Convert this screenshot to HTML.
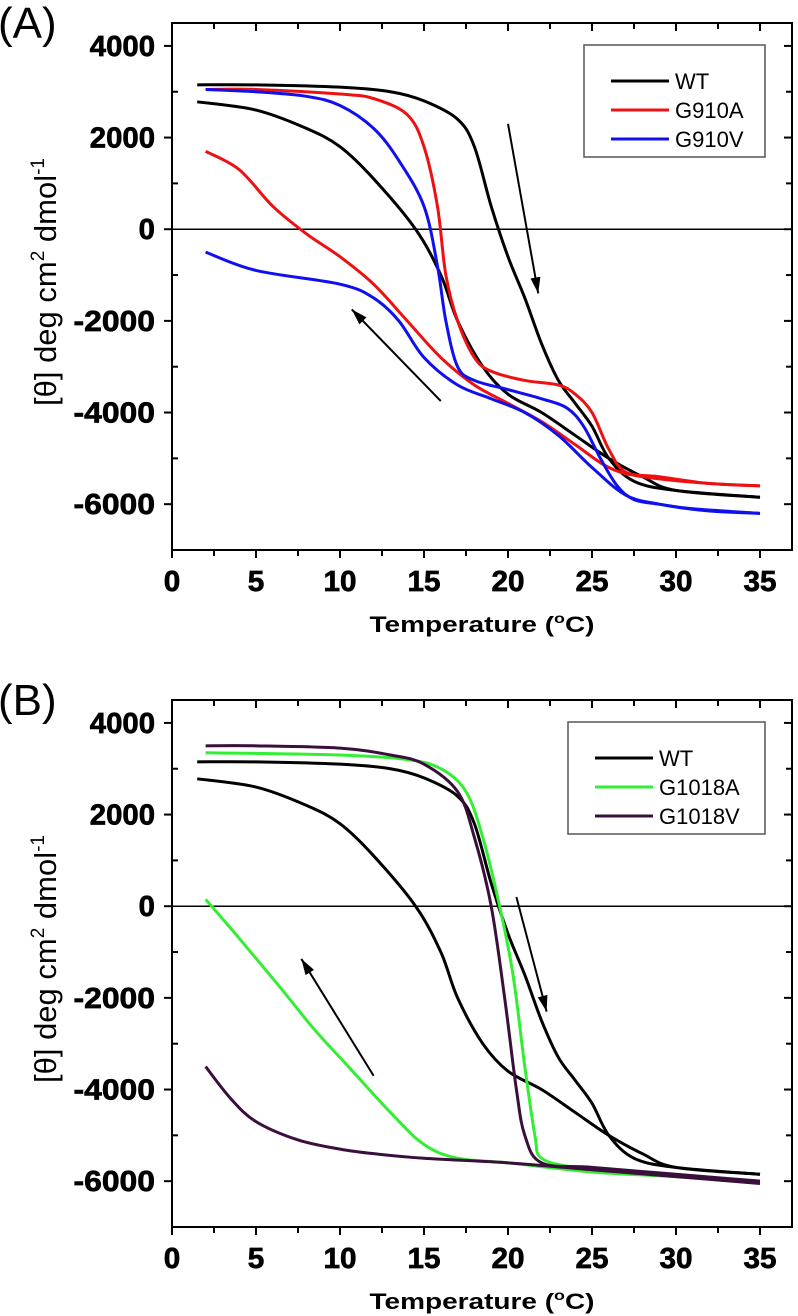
<!DOCTYPE html>
<html><head><meta charset="utf-8"><style>
html,body{margin:0;padding:0;background:#fff;}
svg{display:block;}
text{font-family:"Liberation Sans",sans-serif;}
.tk{font-weight:bold;font-size:29px;stroke:#000;stroke-width:0.7;}
</style></head><body>
<svg id="svg" width="798" height="1316"></svg>
<script>
// ---- Data (value arrays) ----
const xTicks = [0,5,10,15,20,25,30,35];
const yTicks = [4000,2000,0,-2000,-4000,-6000];
// WT (shared in both panels)
const wtHeatT = [1.5,5,10,13,15,17,18,19,20,21,22,23,24,25,26,27.5,30,35];
const wtHeatV = [3150,3150,3100,3000,2800,2400,1800,500,-600,-1500,-2500,-3300,-3800,-4300,-5000,-5500,-5700,-5850];
const wtCoolT = [1.5,5,8,10,12,14.5,16,17,18.5,20,22,24,26,28,30,35];
const wtCoolV = [2780,2600,2200,1800,1100,0,-1000,-2000,-3000,-3600,-4000,-4500,-5000,-5400,-5700,-5850];
// G910A
const aHeatT = [2,5,10,12,14,15,15.8,16.3,17,18,19,21,23,24,25,26,27,29,32,35];
const aHeatV = [3050,3050,2950,2850,2500,1800,500,-1000,-2000,-2800,-3100,-3300,-3400,-3600,-4000,-4800,-5300,-5400,-5550,-5600];
const aCoolT = [2,4,6,8,10,12,14,16,18,20,22,24,26,28,32,35];
const aCoolV = [1700,1300,500,-100,-600,-1200,-2000,-2800,-3400,-3800,-4200,-4700,-5200,-5400,-5550,-5600];
// G910V
const vHeatT = [2,5,8,10,12,13.5,15,15.8,16.3,17,18,20,22,23.5,24.5,25.5,26.5,27.5,29,31,35];
const vHeatV = [3050,3000,2900,2700,2200,1500,500,-800,-2000,-3000,-3300,-3500,-3700,-3900,-4300,-5000,-5600,-5900,-6000,-6100,-6200];
const vCoolT = [2,5,10,12,13.5,15,17,19,21,23,25,27,29,32,35];
const vCoolV = [-500,-900,-1200,-1500,-2000,-2800,-3400,-3700,-4000,-4500,-5200,-5800,-6000,-6150,-6200];
// G1018A
const bAHeatT = [2,10,14,16,17.5,18.5,19.5,20.3,21,21.6,22,24,27,30,35];
const bAHeatV = [3350,3300,3200,3000,2500,1500,0,-1500,-3500,-5000,-5500,-5700,-5800,-5900,-6000];
const bACoolT = [2,4,6.5,8.5,10.5,13,15,17,20,25,30,35];
const bACoolV = [150,-700,-1800,-2700,-3500,-4500,-5200,-5500,-5600,-5800,-5900,-6000];
// G1018V
const bVHeatT = [2,5,10,13,15,17,18,19,19.8,20.5,21,22,25,30,35];
const bVHeatV = [3500,3500,3450,3300,3100,2500,1500,0,-2000,-4000,-5000,-5600,-5700,-5850,-6000];
const bVCoolT = [2,3.5,5,7.5,10,12,15,20,25,30,35];
const bVCoolV = [-3500,-4200,-4700,-5100,-5300,-5400,-5500,-5600,-5750,-5900,-6050];

const NS='http://www.w3.org/2000/svg';
const svg=document.getElementById('svg');
function el(tag,attrs,parent){const e=document.createElementNS(NS,tag);for(const k in attrs)e.setAttribute(k,attrs[k]);(parent||svg).appendChild(e);return e;}

function panel(off,label,series,legend,arrows,lg){
  const L=172,R=792,T=23+off,B=550+off;
  const xs=v=>L+v*16.8;
  const ys=v=>T+(4500-v)/11500*(B-T);
  const g=el('g',{});
  
  
  const pl=el('text',{x:-2,y:off+38,'font-size':44},g);pl.textContent='('+label+')';
  
  const z=el('line',{x1:L,x2:R,y1:ys(0),y2:ys(0),stroke:'#000','stroke-width':1.5},g);
  
  series.forEach(s=>{
    const pts=s.t.map((t,i)=>[xs(t),ys(s.v[i])]);
    let d='M'+pts[0][0]+','+pts[0][1];
    for(let i=0;i<pts.length-1;i++){
      const p0=pts[Math.max(0,i-1)],p1=pts[i],p2=pts[i+1],p3=pts[Math.min(pts.length-1,i+2)];
      const c1=[p1[0]+(p2[0]-p0[0])/6,p1[1]+(p2[1]-p0[1])/6];
      const c2=[p2[0]-(p3[0]-p1[0])/6,p2[1]-(p3[1]-p1[1])/6];
      d+=` C${c1[0]},${c1[1]} ${c2[0]},${c2[1]} ${p2[0]},${p2[1]}`;
    }
    const p=el('path',{d:d,fill:'none',stroke:s.c,'stroke-width':3,'stroke-linejoin':'round'},g);
    
    
  });
  const fr=el('rect',{x:L,y:T,width:R-L,height:B-T,fill:'none',stroke:'#000','stroke-width':2},g);
  
  for(let v=0;v<=37.5;v+=2.5){
    const major=v%5===0;
    el('line',{x1:xs(v),x2:xs(v),y1:B,y2:B+(major?8:6),stroke:'#000','stroke-width':2},g);
    el('line',{x1:xs(v),x2:xs(v),y1:T,y2:T+(major?8:6),stroke:'#000','stroke-width':2},g);
  }
  xTicks.forEach(v=>{
    const t=el('text',{x:xs(v),y:B+41,'text-anchor':'middle',class:'tk',textLength:String(v).length*16.5,lengthAdjust:'spacingAndGlyphs'},g);
    t.textContent=v;
    
  });
  for(let v=-7000;v<=4000;v+=1000){
    const major=v%2000===0;
    el('line',{x1:L-(major?8:0),x2:L+(major?0:6),y1:ys(v),y2:ys(v),stroke:'#000','stroke-width':2},g);
    el('line',{x1:R,x2:R-(major?8:6),y1:ys(v),y2:ys(v),stroke:'#000','stroke-width':2},g);
  }
  yTicks.forEach(v=>{
    const s=String(v);
    const t=el('text',{x:155,y:ys(v)+10,'text-anchor':'end',class:'tk',textLength:s.length*16.3,lengthAdjust:'spacingAndGlyphs'},g);
    t.textContent=s;
    
  });
  const xt=el('text',{x:482,y:B+82,'text-anchor':'middle','font-size':22,'font-weight':'bold',textLength:225,lengthAdjust:'spacingAndGlyphs'},g);
  xt.innerHTML='Temperature (<tspan dy="-9" font-size="14">o</tspan><tspan dy="9">C)</tspan>';
  
  const yt=el('text',{transform:`translate(56,${off+282}) rotate(-90)`,'text-anchor':'middle','font-size':31},g);
  yt.innerHTML='[θ] deg cm<tspan dy="-12" font-size="19">2</tspan><tspan dy="12"> dmol</tspan><tspan dy="-12" font-size="19">-1</tspan>';
  
  arrows.forEach(a=>{
    const [x1,y1,x2,y2]=[xs(a[0]),ys(a[1]),xs(a[2]),ys(a[3])];
    const ag=el('g',{},g);
    
    el('line',{x1:x1,y1:y1,x2:x2,y2:y2,stroke:'#000','stroke-width':2},ag);
    const ang=Math.atan2(y2-y1,x2-x1),h=16,w=5;
    const bx=x2-h*Math.cos(ang),by=y2-h*Math.sin(ang);
    el('polygon',{points:`${x2},${y2} ${bx+w*Math.sin(ang)},${by-w*Math.cos(ang)} ${bx-w*Math.sin(ang)},${by+w*Math.cos(ang)}`,fill:'#000'},ag);
  });
  const lgG=el('g',{},g);
  
  el('rect',{x:lg.x,y:T+22,width:765-lg.x,height:legend.length*30+22,fill:'#fff',stroke:'#555','stroke-width':1.5},lgG);
  legend.forEach((e,i)=>{
    const y=T+58+i*29;
    const eg=el('g',{},lgG);
    
    el('line',{x1:lg.x+27,x2:lg.x+85,y1:y,y2:y,stroke:e[1],'stroke-width':3},eg);
    const t=el('text',{x:lg.x+91,y:y+8,'font-size':22},eg);t.textContent=e[0];
  });
}
panel(0,'A',[
 {t:wtHeatT,v:wtHeatV,c:'#000',n:'wt-heating'},{t:wtCoolT,v:wtCoolV,c:'#000',n:'wt-cooling'},
 {t:aHeatT,v:aHeatV,c:'#ee1111',n:'g910a-heating'},{t:aCoolT,v:aCoolV,c:'#ee1111',n:'g910a-cooling'},
 {t:vHeatT,v:vHeatV,c:'#1010ee',n:'g910v-heating'},{t:vCoolT,v:vCoolV,c:'#1010ee',n:'g910v-cooling'}
],[['WT','#000'],['G910A','#ee1111'],['G910V','#1010ee']],
[[20,2300,21.8,-1400],[16,-3750,10.7,-1750]],{x:584});
panel(677,'B',[
 {t:wtHeatT,v:wtHeatV,c:'#000',n:'wt-heating'},{t:wtCoolT,v:wtCoolV,c:'#000',n:'wt-cooling'},
 {t:bAHeatT,v:bAHeatV,c:'#33ee33',n:'g1018a-heating'},{t:bACoolT,v:bACoolV,c:'#33ee33',n:'g1018a-cooling'},
 {t:bVHeatT,v:bVHeatV,c:'#3a0f3c',n:'g1018v-heating'},{t:bVCoolT,v:bVCoolV,c:'#3a0f3c',n:'g1018v-cooling'}
],[['WT','#000'],['G1018A','#33ee33'],['G1018V','#3a0f3c']],
[[20.5,200,22.3,-2300],[12,-3700,7.7,-1150]],{x:568});
</script>
</body></html>
